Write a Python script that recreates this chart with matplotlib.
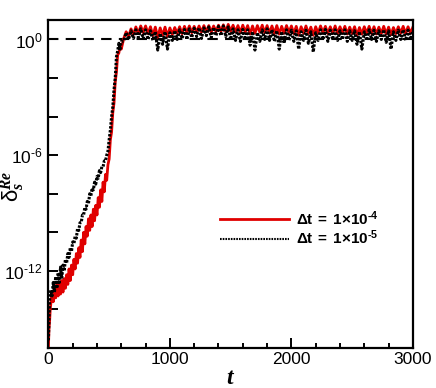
import numpy as np
import matplotlib
matplotlib.use('Agg')
import matplotlib.pyplot as plt
from matplotlib.ticker import FixedLocator, FuncFormatter

plt.rcParams['font.family'] = ['Liberation Sans', 'DejaVu Sans']
plt.rcParams['mathtext.fontset'] = 'custom'
plt.rcParams['mathtext.rm'] = 'Liberation Sans'
plt.rcParams['mathtext.it'] = 'Liberation Serif:italic'
plt.rcParams['mathtext.bf'] = 'Liberation Sans:bold'
plt.rcParams['mathtext.bfit'] = 'Liberation Serif:bold:italic'

HY = '\u2010'  # short hyphen, as in the original tick labels

# ---- data: log10(delta) ----
# linear growth phase
t_red_grow = [0, 5, 10, 15, 20,
              30, 40, 50, 60, 70, 80, 90, 100, 110, 120,
              130, 140, 150, 160, 170, 180, 190, 200, 210, 220,
              230, 240, 250, 260, 270, 280, 290, 300, 310, 320,
              330, 340, 350, 360, 370, 380, 390, 400, 410, 420,
              430, 440, 450, 460, 470, 480, 490, 500, 510, 520,
              530, 540, 550, 560, 570, 580, 590, 600]
logd_red_grow = [-16.0, -15.0, -14.6, -14.0, -13.7,
                 -13.1, -13.6, -12.8, -13.4, -12.7, -13.3, -12.6, -13.2, -12.5, -13.1,
                 -12.4, -12.9, -12.2, -12.7, -11.9, -12.5, -11.7, -12.2, -11.4, -11.9,
                 -11.1, -11.6, -10.8, -11.3, -10.4, -11.0, -10.0, -10.6, -9.7, -10.2,
                 -9.3, -9.9, -9.1, -9.7, -8.8, -9.4, -8.6, -9.1, -8.2, -8.7,
                 -7.8, -8.4, -7.4, -7.9, -7.0, -7.3, -6.5, -6.2, -5.2, -4.8,
                 -3.8, -3.3, -2.2, -1.7, -0.8, -0.7, -0.3, -0.5]

t_blk_grow = [0, 5, 10, 20, 30, 40, 50, 60, 70, 80,
              90, 100, 110, 120, 130, 140, 150, 160, 170, 180,
              190, 200, 210, 220, 230, 240, 250, 260, 270, 280,
              290, 300, 310, 320, 330, 340, 350, 360, 370, 380,
              390, 400, 410, 420, 430, 440, 450, 460, 470, 480,
              490, 500, 510, 520, 530, 540, 550, 560, 570, 580,
              590, 600]
logd_blk_grow = [-15.6, -14.5, -13.5, -13.0, -13.3, -12.6, -13.1, -12.3, -12.9, -12.1,
                 -12.6, -11.8, -12.4, -11.7, -12.0, -11.4, -11.6, -11.1, -11.3, -10.8,
                 -11.0, -10.5, -10.6, -10.2, -10.3, -9.8, -9.9, -9.5, -9.5, -9.1,
                 -9.1, -8.7, -8.8, -8.4, -8.5, -8.0, -8.1, -7.7, -7.8, -7.4,
                 -7.5, -7.1, -7.2, -6.8, -6.9, -6.6, -6.6, -6.3, -6.3, -6.0,
                 -5.8, -5.2, -4.7, -4.0, -3.5, -2.6, -2.0, -0.9, -0.6, -0.2,
                 -0.5, -0.1]

# saturated phase, sampled every 20 time units from t = 620 to 3000
t_sat = np.arange(620, 3001, 20)
logd_red_sat = [0.05, 0.40, 0.15, 0.55, 0.25, 0.65, 0.30, 0.70, 0.35, 0.70,
                0.30, 0.66, 0.20, 0.64, 0.10, 0.60, 0.20, 0.64, 0.15, 0.60,
                0.25, 0.62, 0.30, 0.66, 0.30, 0.68, 0.35, 0.70, 0.35, 0.68,
                0.38, 0.70, 0.38, 0.72, 0.40, 0.72, 0.38, 0.70, 0.40, 0.74,
                0.42, 0.76, 0.40, 0.78, 0.42, 0.74, 0.38, 0.72, 0.35, 0.74,
                0.38, 0.72, 0.28, 0.70, 0.32, 0.72, 0.38, 0.74, 0.35, 0.72,
                0.32, 0.70, 0.30, 0.72, 0.28, 0.68, 0.32, 0.72, 0.35, 0.70,
                0.30, 0.68, 0.22, 0.66, 0.32, 0.70, 0.30, 0.64, 0.22, 0.66,
                0.32, 0.70, 0.35, 0.68, 0.30, 0.66, 0.32, 0.70, 0.30, 0.66,
                0.32, 0.68, 0.28, 0.64, 0.30, 0.66, 0.22, 0.62, 0.28, 0.66,
                0.32, 0.68, 0.30, 0.66, 0.28, 0.64, 0.30, 0.68, 0.28, 0.64,
                0.25, 0.62, 0.30, 0.66, 0.32, 0.68, 0.30, 0.66, 0.32, 0.64]
logd_blk_sat = [-0.10, 0.35, 0.00, 0.45, 0.05, 0.50, 0.10, 0.55, 0.05, 0.50,
                0.00, 0.45, -0.05, 0.40, -0.55, 0.30, -0.25, 0.40, -0.50, 0.35,
                -0.05, 0.45, 0.00, 0.50, 0.05, 0.52, 0.00, 0.55, 0.10, 0.58,
                0.15, 0.60, 0.05, 0.60, 0.20, 0.65, 0.10, 0.62, 0.20, 0.68,
                0.20, 0.70, 0.15, 0.65, 0.00, 0.55, -0.05, 0.50, -0.10, 0.52,
                0.00, 0.50, -0.30, 0.40, -0.55, 0.35, -0.10, 0.50, 0.00, 0.55,
                -0.05, 0.50, -0.10, 0.45, -0.50, 0.40, -0.20, 0.50, -0.05, 0.48,
                -0.10, 0.45, -0.50, 0.40, -0.05, 0.48, -0.20, 0.40, -0.65, 0.35,
                -0.05, 0.50, 0.00, 0.52, -0.10, 0.48, 0.00, 0.50, -0.05, 0.45,
                0.00, 0.50, -0.10, 0.45, -0.05, 0.45, -0.25, 0.40, -0.50, 0.40,
                -0.05, 0.50, 0.00, 0.48, -0.10, 0.45, 0.00, 0.50, -0.15, 0.45,
                -0.50, 0.40, -0.05, 0.48, 0.00, 0.50, -0.05, 0.48, 0.00, 0.45]

labels = [r'$\mathbf{\Delta t\ =\ 1{\times}10^{%s4}}$' % HY,
          r'$\mathbf{\Delta t\ =\ 1{\times}10^{%s5}}$' % HY]

t_red = np.concatenate([t_red_grow, t_sat])
d_red = 10.0 ** np.concatenate([logd_red_grow, logd_red_sat])
t_blk = np.concatenate([t_blk_grow, t_sat])
d_blk = 10.0 ** np.concatenate([logd_blk_grow, logd_blk_sat])

fig = plt.figure(figsize=(4.36, 3.88), dpi=100)
ax = fig.add_axes([0.111, 0.103, 0.836, 0.845])

ax.axhline(1.0, color='black', lw=1.5, dashes=(5, 3.5), zorder=1)
ax.plot(t_red, d_red, color='#e00000', lw=2.0, label=labels[0], zorder=2)
ax.plot(t_blk, d_blk, color='black', lw=2.2, ls=(0, (0.8, 0.5)),
        label=labels[1], zorder=3)

ax.set_yscale('log')
ax.set_xlim(0, 3000)
ax.set_ylim(1e-16, 1e1)

ax.set_xticks([0, 1000, 2000, 3000])
ax.set_xticks(np.arange(0, 3001, 200), minor=True)
ytk = [10.0 ** k for k in range(-16, 1, 2)]
ax.yaxis.set_major_locator(FixedLocator(ytk))
ax.yaxis.set_minor_locator(FixedLocator([]))


def ylab(v, pos):
    e = int(round(np.log10(v)))
    if e % 6 != 0 or e == -16:
        return ''
    s = str(e).replace('-', HY)
    return r'$\mathdefault{10^{%s}}$' % s


ax.yaxis.set_major_formatter(FuncFormatter(ylab))

ax.tick_params(which='both', direction='in', width=1.4, labelsize=12.5,
               top=False, right=False)
ax.tick_params(axis='y', which='major', length=7, pad=4)
ax.tick_params(axis='x', which='major', length=7, pad=3)
ax.tick_params(axis='x', which='minor', length=3.5)
for s in ax.spines.values():
    s.set_linewidth(1.6)

ax.set_xlabel(r'$\mathbfit{t}$', fontsize=17, labelpad=0)
fig.text(13 / 436, 1 - 186 / 388,
         r'$\mathrm{\delta}_{\mathbfit{s}}^{\mathbfit{Re}}$',
         fontsize=16, rotation=90, ha='center', va='center')

leg = ax.legend(loc='upper left', bbox_to_anchor=(220 / 436, 1 - 209 / 388),
                bbox_transform=fig.transFigure, frameon=False, fontsize=11,
                handlelength=4.5, handletextpad=0.5, labelspacing=0.05,
                borderpad=0, borderaxespad=0)
leg.get_lines()[1].set_linewidth(1.5)

fig.savefig('out.png', dpi=100)
